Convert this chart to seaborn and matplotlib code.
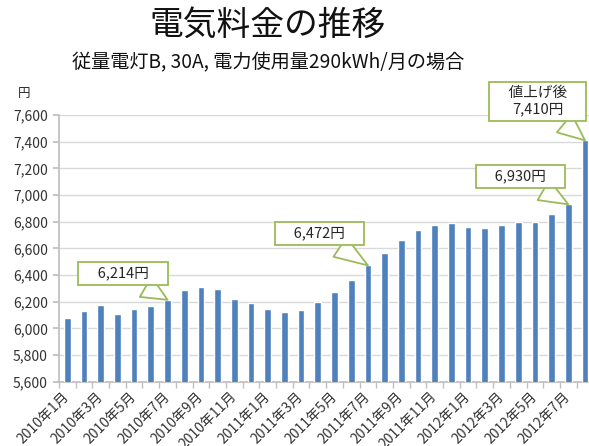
import numpy as np
import pandas as pd
import matplotlib.pyplot as plt
import seaborn as sns

# monthly bill, 2010/1 .. 2012/8 (last bar = after the price hike)
months = [f'{y}年{m}月' for y in (2010, 2011, 2012) for m in range(1, 13)][:32]
bill = [6075, 6128, 6175, 6105, 6148, 6170, 6214, 6285, 6313, 6293, 6218, 6188,
        6143, 6120, 6138, 6198, 6275, 6360, 6472, 6568, 6663, 6738, 6775, 6788,
        6758, 6750, 6775, 6800, 6798, 6858, 6930, 7410]

# callouts: bar index, text
callout_idx = [6, 18, 30, 31]
callout_txt = ['　6,214円　', '　6,472円　', '　6,930円　', '　値上げ後　\n7,410円']
callout_off = [(-32, 19), (-35, 23), (-34.5, 20), (-34, 28)]

sns.set_theme(style='white')
plt.rcParams['font.family'] = ['Noto Sans CJK JP', 'DejaVu Sans']

df = pd.DataFrame({'month': months, 'bill': bill})

fig = plt.figure(figsize=(5.89, 4.46), dpi=100)
ax = fig.add_axes([59 / 589, 1 - 381.7 / 446, (593.3 - 59) / 589, (381.7 - 115) / 446])

sns.barplot(data=df, x='month', y='bill', color='#4F81BD', saturation=1, width=0.4, ax=ax, zorder=3)

ax.set_ylim(5600, 7600)
ax.set_xlim(-0.5, len(months) - 0.5)
ax.set_yticks(np.arange(5600, 7601, 200))
ax.set_yticklabels([f'{v:,}' for v in range(5600, 7601, 200)], fontsize=10, color='#333333')
ax.yaxis.grid(True, color='#D9D9D9', lw=1, zorder=0)
ax.tick_params(axis='y', length=4, color='#BFBFBF', left=True, pad=4)

ax.set_xticks(range(0, len(months), 2))
ax.set_xticklabels(months[::2], rotation=45, ha='right', va='center', rotation_mode='anchor',
                   fontsize=10, color='#333333')
ax.tick_params(axis='x', length=0, pad=9)
ax.set_xticks(np.arange(-0.5, len(months), 1), minor=True)
ax.tick_params(axis='x', which='minor', length=4, color='#BFBFBF', bottom=True)

ax.set_xlabel('')
ax.set_ylabel('')
for s in ['top', 'right']:
    ax.spines[s].set_visible(False)
for s in ['left', 'bottom']:
    ax.spines[s].set_color('#BFBFBF')

green = '#9BBB59'
for i, t, off in zip(callout_idx, callout_txt, callout_off):
    ax.annotate(t, xy=(i, bill[i]), xytext=off, textcoords='offset points',
                ha='center', va='center', fontsize=10.5, color='#262626',
                bbox=dict(boxstyle='square,pad=0.3', fc='white', ec=green, lw=1.3),
                arrowprops=dict(arrowstyle='wedge,tail_width=1.6,shrink_factor=0.5',
                                fc='white', ec=green, lw=1.3, shrinkB=0),
                zorder=5, annotation_clip=False)

fig.text(24.5 / 589, 1 - 94 / 446, '円', fontsize=9, ha='center', va='center', color='#262626')
fig.text(268 / 589, 1 - 25 / 446, '電気料金の推移', fontsize=24.3, ha='center', va='center', color='#111111')
fig.text(268 / 589, 1 - 63 / 446, '従量電灯B, 30A, 電力使用量290kWh/月の場合', fontsize=13.8,
         ha='center', va='center', color='#111111')

fig.savefig('out.png', dpi=100)
